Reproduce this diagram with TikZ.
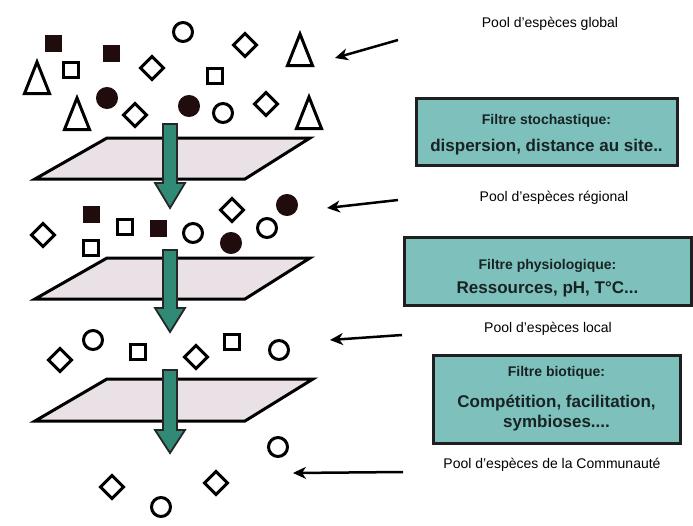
\documentclass[tikz,border=0pt]{standalone}
\usepackage{fontspec}
\setmainfont{Liberation Sans}
\usetikzlibrary{shapes.geometric,arrows.meta}
\definecolor{boxteal}{RGB}{126,192,188}
\definecolor{arrowteal}{RGB}{48,138,118}
\definecolor{planefill}{RGB}{233,225,229}
\definecolor{boxtext}{RGB}{24,36,36}
\definecolor{darkfill}{RGB}{32,12,12}
\begin{document}
\begin{tikzpicture}[x=1pt,y=-1pt,
  shp/.style={line width=3pt, draw=black, inner sep=0pt, outer sep=0pt},
  osq/.style={shp, rectangle, minimum size=15.5pt, fill=white},
  fsq/.style={shp, rectangle, minimum size=14pt, fill=darkfill, draw=darkfill},
  ocirc/.style={shp, circle, minimum size=19pt, fill=white},
  fcirc/.style={shp, circle, minimum size=19pt, fill=darkfill, draw=darkfill},
  dia/.style={shp, diamond, minimum size=23pt, fill=white},
  tri/.pic={\draw[line width=3pt, line join=miter, fill=white] (-12.5,16.5) -- (0,-15) -- (12.5,16.5) -- cycle;},
  plane/.style={draw=black, line width=3pt, fill=planefill, line join=miter},
  garrow/.style={draw=black!85, line width=1.8pt, fill=arrowteal, line join=miter},
  fbox/.style={draw=black!88, line width=3pt, fill=boxteal, inner sep=0pt},
  fhead/.style={anchor=base, text=boxtext, font=\bfseries\fontsize{14}{16}\selectfont, inner sep=0pt},
  fmain/.style={anchor=base, text=boxtext, font=\bfseries\fontsize{17}{20}\selectfont, inner sep=0pt},
  lbl/.style={anchor=base, font=\fontsize{14}{16}\selectfont, inner sep=0pt},
  ptr/.style={line width=2.5pt, -{Stealth[length=13pt,width=12pt,inset=4pt]}}
]
\useasboundingbox[fill=white] (0,0) rectangle (693,525);

% ---------- global pool ----------
\node[fsq] (g1) at (53,43) {};
\node[fsq] (g2) at (111,53) {};
\node[ocirc] (g3) at (183,32) {};
\node[dia] (g4) at (245,45) {};
\pic (g5) at (300,49) {tri};
\pic (g6) at (37,77) {tri};
\node[osq] (g7) at (71,70) {};
\node[dia] (g8) at (152,68) {};
\node[osq] (g9) at (215,76) {};
\pic (g10) at (77,113) {tri};
\node[fcirc] (g11) at (107,98) {};
\node[dia] (g12) at (135,115) {};
\node[fcirc] (g13) at (189,106) {};
\node[ocirc] (g14) at (223,113) {};
\node[dia] (g15) at (266,104) {};
\pic (g16) at (309,112) {tri};

% ---------- plane 1 ----------
\draw[plane] (35,179) -- (245,179) -- (310,138) -- (107,138) -- cycle;
\draw[garrow] (163,124) -- (177,124) -- (177,183) -- (185,183) -- (170,208) -- (155,183) -- (163,183) -- cycle;

% ---------- regional pool ----------
\node[dia] (r1) at (43,235) {};
\node[fsq] (r2) at (91,214) {};
\node[osq] (r3) at (91,248) {};
\node[osq] (r4) at (125,227) {};
\node[fsq] (r5) at (158,228) {};
\node[ocirc] (r6) at (193,233) {};
\node[dia] (r7) at (232,210) {};
\node[fcirc] (r8) at (231,243) {};
\node[ocirc] (r9) at (267,228) {};
\node[fcirc] (r10) at (287,205) {};

% ---------- plane 2 ----------
\draw[plane] (35,299) -- (245,299) -- (310,258) -- (107,258) -- cycle;
\draw[garrow] (163,250) -- (177,250) -- (177,308) -- (185,308) -- (170,332) -- (155,308) -- (163,308) -- cycle;

% ---------- local pool ----------
\node[dia] (l1) at (60,360) {};
\node[ocirc] (l2) at (93,340) {};
\node[osq] (l3) at (138,352) {};
\node[dia] (l4) at (196,357) {};
\node[osq] (l5) at (232,342) {};
\node[ocirc] (l6) at (279,350) {};

% ---------- plane 3 ----------
\draw[plane] (35,421) -- (245,421) -- (313,379) -- (107,379) -- cycle;
\draw[garrow] (163,370) -- (177,370) -- (177,430) -- (185,430) -- (170,453) -- (155,430) -- (163,430) -- cycle;

% ---------- community ----------
\node[ocirc] (c1) at (278,447) {};
\node[dia] (c2) at (112,487) {};
\node[dia] (c3) at (216,483) {};
\node[ocirc] (c4) at (161,507) {};

% ---------- labels ----------
\node[lbl] (lglob) at (550,27) {Pool d'espèces global};
\node[lbl] (lreg) at (554,201) {Pool d'espèces régional};
\node[lbl] (lloc) at (548,332) {Pool d'espèces local};
\node[lbl] (lcom) at (552,468) {Pool d'espèces de la Communauté};

% ---------- filter boxes ----------
\node[fbox, minimum width=261pt, minimum height=67pt] (f1) at (546.5,131.5) {};
\node[fhead] (f1h) at (546.5,124) {Filtre stochastique:};
\node[fmain] (f1m) at (546.5,151) {dispersion, distance au site..};

\node[fbox, minimum width=287pt, minimum height=68pt] (f2) at (547.5,271) {};
\node[fhead] (f2h) at (547.5,269) {Filtre physiologique:};
\node[fmain] (f2m) at (547.5,293) {Ressources, pH, T°C...};

\node[fbox, minimum width=247pt, minimum height=88pt] (f3) at (556.5,399) {};
\node[fhead] (f3h) at (556.5,376) {Filtre biotique:};
\node[fmain] (f3m) at (556.5,407) {Compétition, facilitation,};
\node[fmain] (f3s) at (556.5,427) {symbioses....};

% ---------- pointer arrows ----------
\coordinate (a1s) at (398,40);  \coordinate (a1e) at (335,58);
\coordinate (a2s) at (398,200); \coordinate (a2e) at (327,208);
\coordinate (a3s) at (402,335); \coordinate (a3e) at (330,340);
\coordinate (a4s) at (403,472); \coordinate (a4e) at (293,473);
\draw[ptr] (a1s) -- (a1e);
\draw[ptr] (a2s) -- (a2e);
\draw[ptr] (a3s) -- (a3e);
\draw[ptr] (a4s) -- (a4e);
\end{tikzpicture}
\end{document}
